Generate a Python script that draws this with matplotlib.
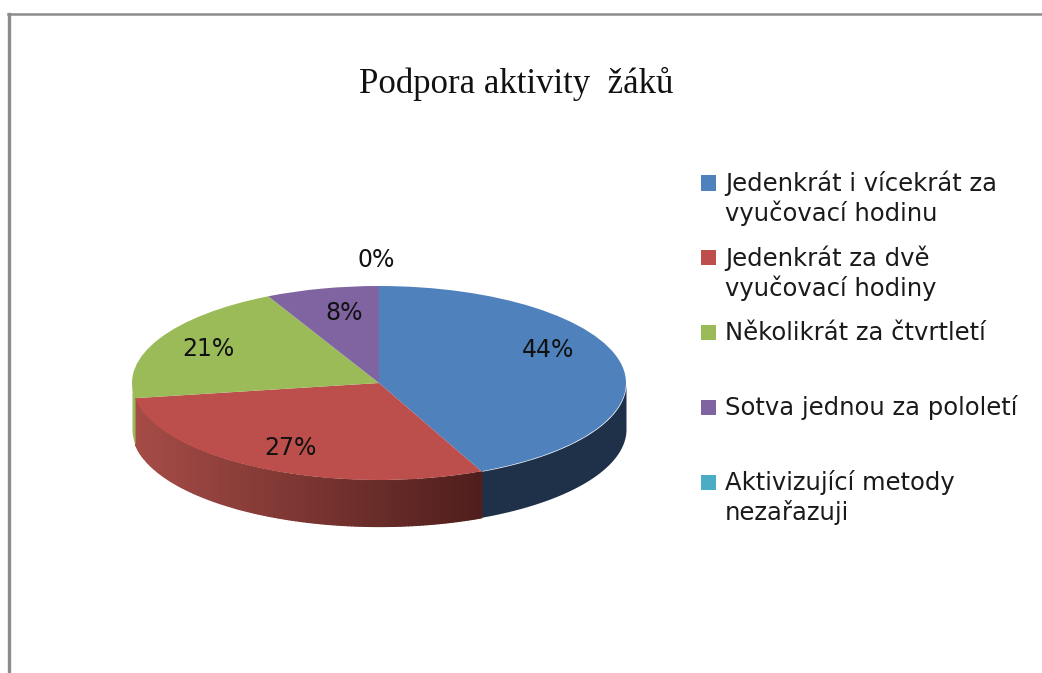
import numpy as np
import matplotlib
matplotlib.use("Agg")
import matplotlib.pyplot as plt
from matplotlib.colors import to_rgb
from matplotlib.lines import Line2D
from matplotlib.patches import Rectangle

W, H = 1042, 673

title = "Podpora aktivity  žáků"
categories = ["Jedenkrát i vícekrát za\nvyučovací hodinu",
              "Jedenkrát za dvě\nvyučovací hodiny",
              "Několikrát za čtvrtletí",
              "Sotva jednou za pololetí",
              "Aktivizující metody\nnezařazuji"]
# printed labels
percent_labels = ["44%", "27%", "21%", "8%", "0%"]
# slice shares as they appear on the tilted pie (perspective stretches the front)
shares = [43.2, 29.3, 20.1, 7.4, 0.0]
colors = ["#4F81BD", "#BC4F4B", "#9BBB59", "#8064A2", "#4BACC6"]
side_from = ["#1F3049", "#A64C47", "#9BBB59", "#5F4A79", "#35808F"]
side_to = ["#1F3049", "#4F1E1C", "#9BBB59", "#5F4A79", "#35808F"]
label_pos = [(548, 350), (290, 448), (208, 349), (344, 313), (376, 260)]


def fx(x):
    return x / W


def fy(y):
    return 1 - y / H


fig = plt.figure(figsize=(W / 100, H / 100), dpi=100, facecolor="white")

# frame, only top and left are visible in the crop
fig.add_artist(Line2D([fx(8.5), fx(8.5)], [fy(14), fy(673)], color="#8C8C8C", lw=2.4))
fig.add_artist(Line2D([fx(8), fx(1042)], [fy(14), fy(14)], color="#8C8C8C", lw=1.8))

# axes box is exactly the top ellipse of the pie
left, right, top, bottom = 132, 626, 286, 480
ax = fig.add_axes([fx(left), fy(bottom), (right - left) / W, (bottom - top) / H])

depth = 46 / ((bottom - top) / 2)
edges = np.radians(np.concatenate([[0], np.cumsum(shares)]) / np.sum(shares) * 360)

# side wall, front half of the rim only
for i in range(len(shares)):
    t0, t1 = max(edges[i], np.pi / 2), min(edges[i + 1], 3 * np.pi / 2)
    if t1 <= t0:
        continue
    t = np.linspace(t0, t1, 120)
    xs, ys = np.sin(t), np.cos(t)
    if side_from[i] == side_to[i]:
        ax.fill_between(xs, ys, ys - depth, color=side_from[i], lw=0, clip_on=False)
        continue
    # shaded wall, lighter on the left end of the slice
    c0, c1 = np.array(to_rgb(side_from[i])), np.array(to_rgb(side_to[i]))
    for j in range(len(t) - 1):
        f = (xs[j] - xs.min()) / (xs.max() - xs.min())
        ax.fill_between(xs[j:j + 2], ys[j:j + 2], ys[j:j + 2] - depth,
                        color=c0 + (c1 - c0) * f, lw=0.9, clip_on=False)

ax.pie(shares, colors=colors, startangle=90, counterclock=False, radius=1,
       wedgeprops={"linewidth": 0, "clip_on": False})
ax.set_aspect("auto")
ax.set_xlim(-1, 1)
ax.set_ylim(-1, 1)
ax.axis("off")

for lab, (x, y) in zip(percent_labels, label_pos):
    fig.text(fx(x), fy(y), lab, ha="center", va="center", fontsize=17,
             color="#111111", family="DejaVu Sans")

fig.text(fx(516.5), fy(84), title, ha="center", va="center", fontsize=25,
         color="#111111", family="Liberation Serif")

# legend, even step between entries
for i, (name, col) in enumerate(zip(categories, colors)):
    y0 = 183 + 74.8 * i
    fig.add_artist(Rectangle((fx(701), fy(y0 + 7.5)), 15 / W, 15 / H, color=col,
                             transform=fig.transFigure, lw=0))
    for k, line in enumerate(name.split("\n")):
        fig.text(fx(725), fy(y0 + k * 30), line, ha="left", va="center",
                 fontsize=17.5, color="#1A1A1A", family="DejaVu Sans")

fig.savefig("out.png", dpi=100)
